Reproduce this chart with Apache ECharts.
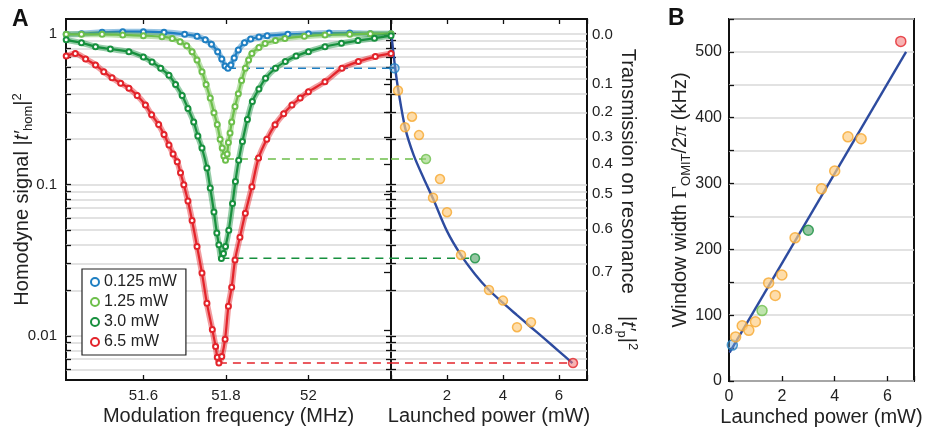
<!DOCTYPE html>
<html>
<head>
<meta charset="utf-8">
<script src="https://cdn.jsdelivr.net/npm/echarts@6/dist/echarts.min.js"></script>
<style>
  html, body { margin: 0; padding: 0; background: #fff; }
  #chart { width: 931px; height: 430px; }
</style>
</head>
<body>
<div id="chart"></div>
<script>
// panel A, left: homodyne signal vs modulation frequency (MHz)
const blueFreq = [51.413, 51.45, 51.5, 51.55, 51.6, 51.65, 51.7, 51.73, 51.75, 51.765, 51.78, 51.79, 51.798, 51.805, 51.812, 51.82, 51.83, 51.845, 51.86, 51.88, 51.9, 51.95, 52.0, 52.05, 52.1, 52.15, 52.2];
const blueSignal = [0.99, 1.0, 1.02, 1.03, 1.03, 1.02, 0.99, 0.96, 0.91, 0.85, 0.76, 0.68, 0.61, 0.59, 0.62, 0.69, 0.78, 0.87, 0.92, 0.95, 0.97, 0.99, 1.0, 1.01, 1.01, 1.0, 1.0];
const lightFreq = [51.413, 51.45, 51.5, 51.55, 51.6, 51.645, 51.67, 51.689, 51.705, 51.718, 51.73, 51.742, 51.752, 51.762, 51.771, 51.779, 51.786, 51.791, 51.795, 51.799, 51.803, 51.806, 51.81, 51.814, 51.822, 51.83, 51.838, 51.847, 51.855, 51.863, 51.88, 51.895, 51.92, 51.943, 51.99, 52.04, 52.1, 52.15, 52.2];
const lightSignal = [0.99, 0.99, 0.99, 0.98, 0.97, 0.955, 0.93, 0.885, 0.83, 0.76, 0.67, 0.56, 0.46, 0.375, 0.3, 0.25, 0.2, 0.175, 0.155, 0.145, 0.16, 0.19, 0.22, 0.26, 0.33, 0.4, 0.49, 0.59, 0.67, 0.74, 0.81, 0.86, 0.9, 0.93, 0.96, 0.98, 0.99, 1.0, 1.0];
const darkFreq = [51.413, 51.45, 51.484, 51.52, 51.565, 51.6, 51.621, 51.642, 51.662, 51.678, 51.694, 51.708, 51.722, 51.732, 51.742, 51.754, 51.762, 51.771, 51.778, 51.783, 51.789, 51.794, 51.799, 51.807, 51.816, 51.823, 51.831, 51.84, 51.852, 51.864, 51.88, 51.896, 51.92, 51.944, 51.97, 52.0, 52.04, 52.08, 52.12, 52.16, 52.2];
const darkSignal = [0.91, 0.87, 0.82, 0.79, 0.76, 0.7, 0.65, 0.59, 0.53, 0.46, 0.39, 0.32, 0.26, 0.21, 0.175, 0.129, 0.095, 0.066, 0.048, 0.04, 0.0325, 0.035, 0.039, 0.05, 0.075, 0.105, 0.145, 0.193, 0.27, 0.355, 0.43, 0.506, 0.59, 0.653, 0.71, 0.76, 0.82, 0.863, 0.9, 0.932, 0.97];
const redFreq = [51.413, 51.435, 51.46, 51.484, 51.504, 51.524, 51.545, 51.565, 51.585, 51.605, 51.62, 51.637, 51.65, 51.662, 51.672, 51.682, 51.69, 51.698, 51.708, 51.718, 51.73, 51.742, 51.754, 51.767, 51.775, 51.779, 51.783, 51.79, 51.798, 51.806, 51.814, 51.822, 51.834, 51.847, 51.863, 51.879, 51.899, 51.919, 51.94, 51.96, 51.98, 52.0, 52.04, 52.081, 52.121, 52.162, 52.2];
const redSignal = [0.71, 0.74, 0.68, 0.62, 0.56, 0.51, 0.47, 0.435, 0.39, 0.337, 0.29, 0.25, 0.215, 0.183, 0.16, 0.142, 0.12, 0.1, 0.078, 0.058, 0.039, 0.026, 0.0164, 0.011, 0.0085, 0.0072, 0.0066, 0.0073, 0.0095, 0.0157, 0.021, 0.0317, 0.045, 0.0647, 0.097, 0.15, 0.2, 0.249, 0.295, 0.337, 0.375, 0.413, 0.481, 0.59, 0.653, 0.705, 0.74];

const curveNames = ['0.125 mW', '1.25 mW', '3.0 mW', '6.5 mW'];
const dipFreq = [51.805, 51.8, 51.789, 51.783];
const dipPower = [0.125, 1.25, 3.0, 6.5];
const dipLevel = [0.59, 0.148, 0.0326, 0.0066];

// panel A, right: dip depth vs launched power, and panel B: window width
const powers = [0.125, 0.25, 0.5, 0.75, 1.0, 1.25, 1.5, 1.75, 2.0, 2.5, 3.0, 3.5, 4.0, 4.5, 5.0, 6.5];
const dipSignal = [0.59, 0.42, 0.24, 0.282, 0.213, 0.148, 0.082, 0.109, 0.0658, 0.0343, 0.0326, 0.0201, 0.0171, 0.0114, 0.0123, 0.0066];
const widths = [54.6, 67, 84, 77, 90, 107, 149, 130, 161, 217.5, 229, 292, 319, 371, 368, 516];
const pointKind = ['blue', 'orange', 'orange', 'orange', 'orange', 'light', 'orange', 'orange', 'orange', 'orange', 'dark', 'orange', 'orange', 'orange', 'orange', 'red'];

const fitPower = [0.03, 0.15, 0.27, 0.51, 0.81, 1.17, 1.5, 2.0, 2.5, 3.0, 3.5, 4.0, 4.5, 5.0, 5.5, 6.0, 6.48];
const fitSignal = [0.93, 0.59, 0.413, 0.236, 0.157, 0.11, 0.081, 0.0493, 0.0342, 0.0256, 0.0201, 0.0165, 0.0137, 0.0114, 0.0095, 0.0079, 0.0066];
const fitBPower = [0.02, 6.7];
const fitBWidth = [43, 500];

// tick values
const logTicks = [0.006, 0.007, 0.008, 0.009, 0.01, 0.02, 0.03, 0.04, 0.05, 0.06, 0.07, 0.08, 0.09,
  0.1, 0.2, 0.3, 0.4, 0.5, 0.6, 0.7, 0.8, 0.9, 1];
const logLabels = [0.01, 0.1, 1];
const freqTicks = [51.6, 51.8, 52.0];
const freqTopTicks = [51.6, 51.8, 52.0, 52.2];
const transLabels = ['0.0', '0.1', '0.2', '0.3', '0.4', '0.5', '0.6', '0.7', '0.8'];
const transTickAt = [0.98, 0.462, 0.304, 0.207, 0.137, 0.0868, 0.0509, 0.0265, 0.0109];

const colors = { blue: '#1f7fc2', light: '#6dbf4b', dark: '#17903e', red: '#e3242b', orange: '#f6a82e' };
const fills = {
  blue: 'rgba(110,170,220,0.55)', light: 'rgba(150,210,120,0.75)', dark: 'rgba(80,160,100,0.75)',
  red: 'rgba(240,120,120,0.7)', orange: 'rgba(253,205,130,0.85)'
};
const curveColors = [colors.blue, colors.light, colors.dark, colors.red];
const navy = '#2d4b9f';
const font = 'Liberation Sans, Arial, sans-serif';
const ink = '#222';
const gridGrey = '#d8d8d8';

const zip = (xs, ys) => xs.map((x, i) => [x, ys[i]]);
const fmt = v => String(+v.toPrecision(6));

const curves = [
  zip(blueFreq, blueSignal), zip(lightFreq, lightSignal),
  zip(darkFreq, darkSignal), zip(redFreq, redSignal)
];

const yMin = 0.0051, yMax = 1.25;
const tickStyle = { show: true, inside: true, length: 5, lineStyle: { color: '#111', width: 1.3 } };

function logAxis(gridIndex, position, opts) {
  return Object.assign({
    type: 'log', gridIndex, position, min: yMin, max: yMax, logBase: 10,
    axisLine: { show: false },
    axisTick: Object.assign({}, tickStyle, { customValues: logTicks }),
    axisLabel: { show: false },
    splitLine: { show: false },
    minorTick: { show: false },
    minorSplitLine: { show: false }
  }, opts);
}

const rich = {
  i: { fontStyle: 'italic', fontFamily: font, fontSize: 20, color: ink },
  sub: { fontSize: 13, fontFamily: font, color: ink, padding: [12, 0, 0, 0] },
  sup: { fontSize: 13, fontFamily: font, color: ink, padding: [0, 0, 11, 0] },
  g: { fontFamily: 'Liberation Serif, serif', fontSize: 22, color: ink },
  gi: { fontFamily: 'Liberation Serif, serif', fontStyle: 'italic', fontSize: 22, color: ink }
};
const nameStyle = { fontFamily: font, fontSize: 20, color: ink, rich };
const labelStyle = { fontFamily: font, fontSize: 15, color: ink };
const xLabelStyle = Object.assign({}, labelStyle, { margin: 10, lineHeight: 12 });

const series = [];
curves.forEach((data, k) => {
  // dense band of measured points
  series.push({
    type: 'line', xAxisIndex: 0, yAxisIndex: 0, data, smooth: 0.3, symbol: 'none',
    lineStyle: { color: curveColors[k], width: 6, opacity: 0.45 }, z: 2 + k
  });
  series.push({
    name: curveNames[k], type: 'line', xAxisIndex: 0, yAxisIndex: 0,
    data, smooth: 0.3, symbol: 'emptyCircle', symbolSize: 5, showAllSymbol: true,
    lineStyle: { color: curveColors[k], width: 2.2 },
    itemStyle: { color: curveColors[k], borderWidth: 1 },
    z: 3 + k
  });
});
dipLevel.forEach((v, k) => {
  const dash = { color: curveColors[k], width: 1.5, type: [8, 6] };
  series.push({
    type: 'line', xAxisIndex: 0, yAxisIndex: 0, symbol: 'none', z: 2,
    data: [[dipFreq[k], v], [52.2, v]], lineStyle: dash
  });
  series.push({
    type: 'line', xAxisIndex: 1, yAxisIndex: 2, symbol: 'none', z: 2,
    data: [[0, v], [dipPower[k], v]], lineStyle: dash
  });
});
series.push({
  type: 'line', xAxisIndex: 1, yAxisIndex: 2, symbol: 'none', smooth: 0.3, z: 3,
  data: zip(fitPower, fitSignal), lineStyle: { color: navy, width: 2.4 }
});
const pointStyle = k => ({ color: fills[k], borderColor: colors[k], borderWidth: 1.5 });
series.push({
  type: 'scatter', xAxisIndex: 1, yAxisIndex: 2, symbolSize: 9, z: 4,
  data: powers.map((p, i) => ({ value: [p, dipSignal[i]], itemStyle: pointStyle(pointKind[i]) }))
});
series.push({
  type: 'line', xAxisIndex: 2, yAxisIndex: 4, symbol: 'none', z: 3,
  data: zip(fitBPower, fitBWidth), lineStyle: { color: navy, width: 2.4 }
});
series.push({
  type: 'scatter', xAxisIndex: 2, yAxisIndex: 4, symbolSize: 10, z: 4,
  data: powers.map((p, i) => ({ value: [p, widths[i]], itemStyle: pointStyle(pointKind[i]) }))
});

const frame = { show: true, borderColor: '#111', borderWidth: 2, backgroundColor: '#fff', outerBoundsMode: 'none', containLabel: false };

const option = {
  animation: false,
  backgroundColor: '#fff',
  grid: [
    Object.assign({ left: 66, top: 19, width: 325, height: 361 }, frame),
    Object.assign({ left: 391, top: 19, width: 196, height: 361 }, frame),
    Object.assign({ left: 729, top: 19, width: 185, height: 362 }, frame)
  ],
  legend: {
    left: 82, top: 269, orient: 'vertical',
    data: curveNames.map(n => ({ name: n, icon: 'emptyCircle' })),
    itemWidth: 8, itemHeight: 8, itemGap: 4,
    padding: [5, 9, 5, 8],
    backgroundColor: '#fff', borderColor: '#222', borderWidth: 1.2,
    textStyle: { fontFamily: font, fontSize: 16, color: ink },
    itemStyle: { borderWidth: 1.4 }
  },
  xAxis: [
    {
      type: 'value', gridIndex: 0, position: 'bottom', min: 51.4125, max: 52.2,
      axisLine: { show: false, onZero: false },
      axisTick: Object.assign({}, tickStyle, { customValues: freqTicks }),
      axisLabel: Object.assign({}, xLabelStyle, { customValues: freqTicks, formatter: fmt }),
      splitLine: { show: false },
      name: 'Modulation frequency (MHz)', nameLocation: 'middle', nameGap: 26, nameMoveOverlap: false,
      nameTextStyle: nameStyle
    },
    {
      type: 'value', gridIndex: 1, position: 'bottom', min: 0, max: 7, interval: 2,
      axisLine: { show: false, onZero: false },
      axisTick: tickStyle,
      axisLabel: Object.assign({}, xLabelStyle, { formatter: v => (v === 0 || v === 7 ? '' : v) }),
      splitLine: { show: false },
      name: 'Launched power (mW)', nameLocation: 'middle', nameGap: 26, nameMoveOverlap: false,
      nameTextStyle: nameStyle
    },
    {
      type: 'value', gridIndex: 2, position: 'bottom', min: 0, max: 7, interval: 2,
      axisLine: { show: false, onZero: false }, axisTick: tickStyle,
      axisLabel: Object.assign({}, xLabelStyle, { fontSize: 16, formatter: v => (v === 7 ? '' : v) }),
      splitLine: { show: false },
      name: 'Launched power (mW)', nameLocation: 'middle', nameGap: 26, nameMoveOverlap: false,
      nameTextStyle: nameStyle
    },
    {
      type: 'value', gridIndex: 0, position: 'top', min: 51.4125, max: 52.2,
      axisLine: { show: false, onZero: false },
      axisTick: Object.assign({}, tickStyle, { customValues: freqTopTicks }),
      axisLabel: { show: false }, splitLine: { show: false }
    },
    {
      type: 'value', gridIndex: 1, position: 'top', min: 0, max: 7, interval: 2,
      axisLine: { show: false, onZero: false }, axisTick: tickStyle,
      axisLabel: { show: false }, splitLine: { show: false }
    }
  ],
  yAxis: [
    logAxis(0, 'left', {
      splitLine: { show: true, lineStyle: { color: gridGrey, width: 1.6 } },
      axisLabel: Object.assign({}, labelStyle, { customValues: logLabels, formatter: fmt, margin: 9 }),
      name: 'Homodyne signal |{i|t′}{sub|hom}|{sup|2}', nameLocation: 'middle', nameRotate: 90,
      nameGap: 31, nameMoveOverlap: false, nameTextStyle: nameStyle
    }),
    logAxis(0, 'right', {}),
    logAxis(1, 'left', {
      splitLine: { show: true, lineStyle: { color: gridGrey, width: 1.6 } }
    }),
    logAxis(1, 'right', {
      axisTick: Object.assign({}, tickStyle, { length: 7, customValues: transTickAt }),
      axisLabel: Object.assign({}, labelStyle, {
        customValues: transTickAt, margin: 5,
        formatter: v => {
          let best = 0;
          transTickAt.forEach((t, i) => {
            if (Math.abs(Math.log10(t) - Math.log10(v)) < Math.abs(Math.log10(transTickAt[best]) - Math.log10(v))) best = i;
          });
          return transLabels[best];
        }
      }),
      name: 'Transmission on resonance    |{i|t′}{sub|p}|{sup|2}', nameLocation: 'middle', nameRotate: -90,
      nameGap: 28, nameMoveOverlap: false, nameTextStyle: nameStyle
    }),
    {
      type: 'value', gridIndex: 2, min: 0, max: 550, interval: 50,
      axisLine: { show: false },
      axisTick: tickStyle,
      axisLabel: Object.assign({}, labelStyle, { fontSize: 16, margin: 7, formatter: v => (v % 100 === 0 ? v : '') }),
      splitLine: { show: true, lineStyle: { color: gridGrey, width: 1.6 } },
      name: 'Window width {g|Γ}{sub|OMIT}/2{gi|π} (kHz)', nameLocation: 'middle', nameRotate: 90,
      nameGap: 36, nameMoveOverlap: false, nameTextStyle: nameStyle
    }
  ],
  graphic: [
    { type: 'text', left: 12, top: 8, style: { text: 'A', fontFamily: font, fontWeight: 'bold', fontSize: 23, fill: '#111' } },
    { type: 'text', left: 668, top: 7, style: { text: 'B', fontFamily: font, fontWeight: 'bold', fontSize: 23, fill: '#111' } }
  ],
  series
};

const chart = echarts.init(document.getElementById('chart'), null, { renderer: 'canvas' });
chart.setOption(option);
</script>
</body>
</html>
